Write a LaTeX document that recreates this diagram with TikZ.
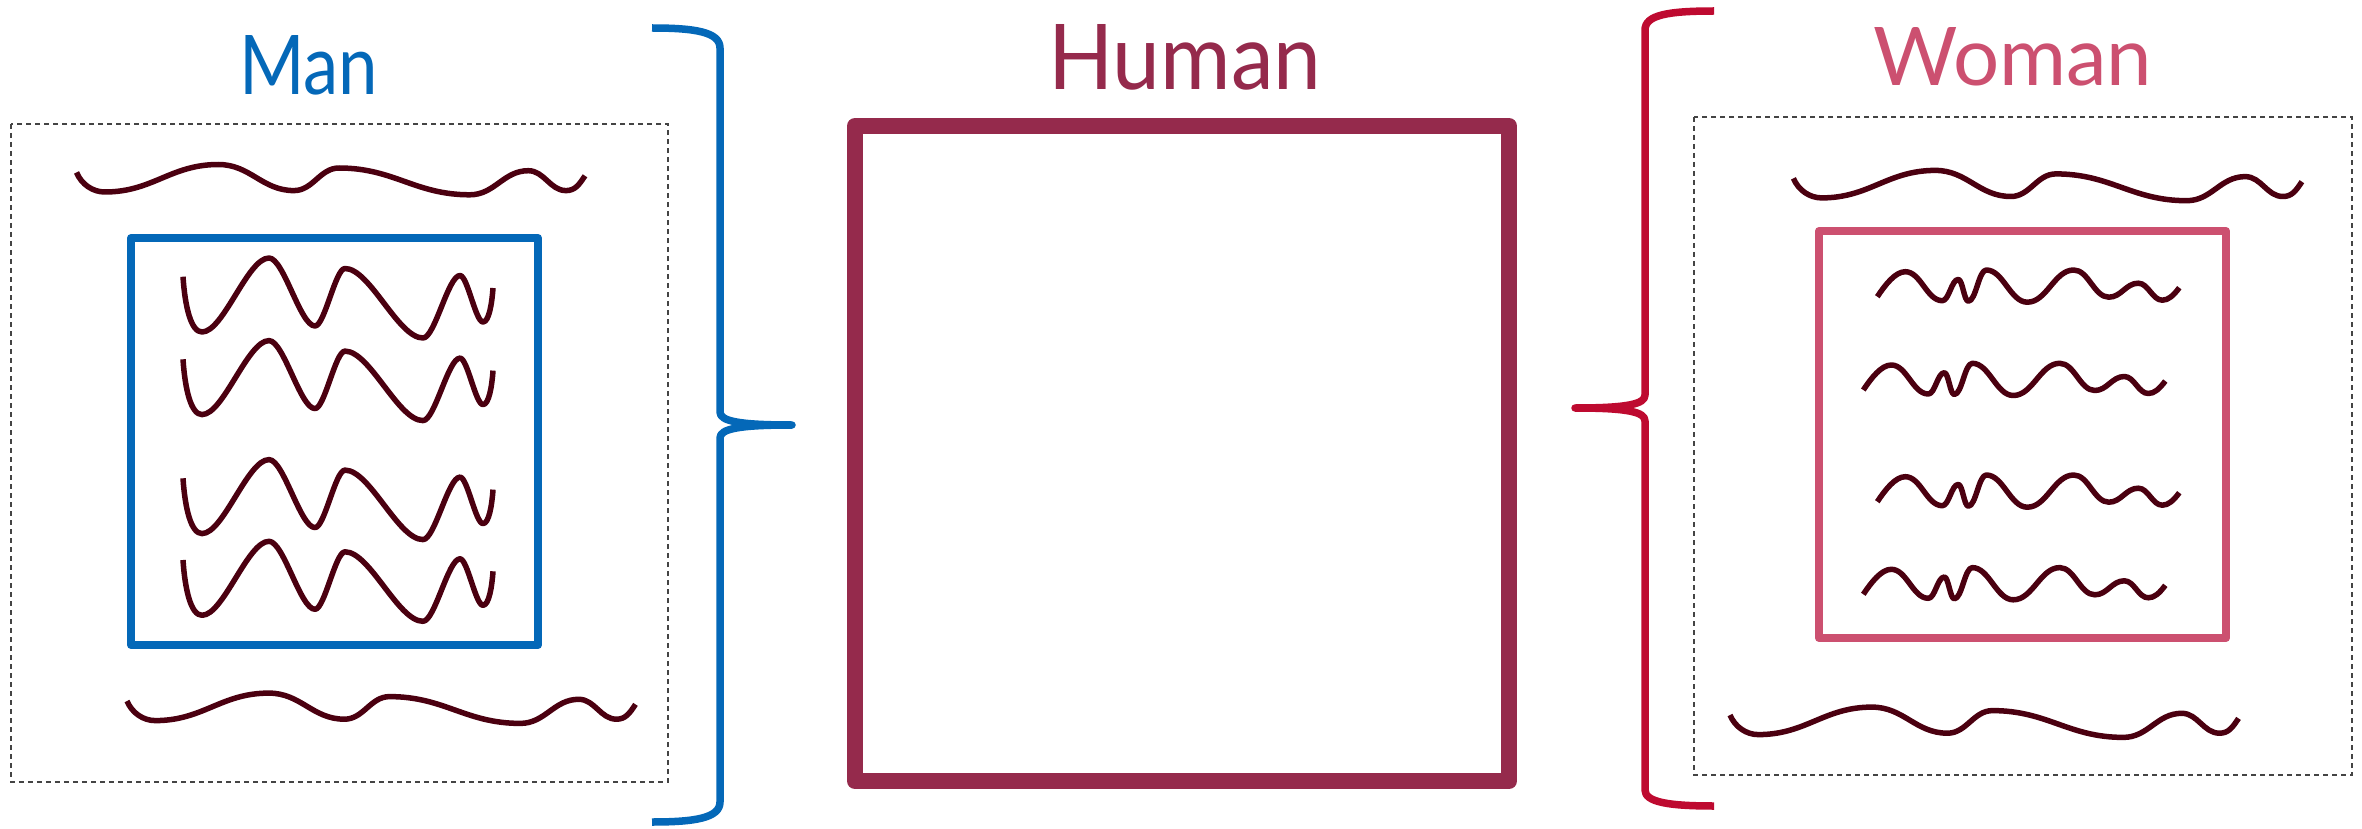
\documentclass[tikz,border=0pt]{standalone}
\usepackage{fontspec}
\setmainfont{Lato}
\usepackage{graphicx}
\definecolor{manblue}{RGB}{4,104,184}
\definecolor{humanred}{RGB}{149,42,76}
\definecolor{womanpink}{RGB}{204,80,112}
\definecolor{bracered}{RGB}{190,10,48}
\definecolor{wavecol}{RGB}{75,0,16}
\definecolor{dashgray}{RGB}{68,68,68}
\tikzset{
  dashbox/.style={draw=dashgray, line width=1.3pt, dash pattern=on 5pt off 4pt},
  wave/.style={draw=wavecol, line width=5.5pt, line cap=butt, line join=round},
  bracepath/.style={line width=7.5pt, line join=round, line cap=butt},
  frame/.style={line join=round},
  title/.style={inner sep=0pt, anchor=base west},
  widewave/.pic={\draw[wave] (0,0) .. controls +(5,12) and +(-12,0) .. (28.3,19.6)
     .. controls +(48,0) and +(-48,0) .. (141.9,-7.9)
     .. controls +(32,0) and +(-32,0) .. (217.5,18.2)
     .. controls +(19,0) and +(-19,0) .. (262.5,-4.4)
     .. controls +(55,0) and +(-55,0) .. (393.3,22.4)
     .. controls +(25,0) and +(-25,0) .. (451.8,-1.7)
     .. controls +(16,0) and +(-16,0) .. (489.5,18.2)
     .. controls +(9,0) and +(-6,9) .. (508.5,3.4);},
  tallwave/.pic={\draw[wave] (0,0) .. controls +(2,30) and +(-11,0) .. (19,55.3)
     .. controls +(21.4,0) and +(-21.4,0) .. (86,-18.7)
     .. controls +(14.7,0) and +(-14.7,0) .. (132,49.3)
     .. controls +(9.6,0) and +(-9.6,0) .. (162,-8.2)
     .. controls +(25,0) and +(-25,0) .. (240,61.3)
     .. controls +(11.8,0) and +(-11.8,0) .. (277,-1.2)
     .. controls +(7.4,0) and +(-7.4,0) .. (300,45.3)
     .. controls +(6,0) and +(-1,15) .. (310,11.3);},
  shortwave/.pic={\draw[wave] (0,0) .. controls +(8,-12) and +(-10,0) .. (28,-25)
     .. controls +(15.5,0) and +(-15.5,0) .. (65,4)
     .. controls +(6.7,0) and +(-6.7,0) .. (81,-17.3)
     .. controls +(4.2,0) and +(-4.2,0) .. (91,4.5)
     .. controls +(7.6,0) and +(-7.6,0) .. (109,-26.7)
     .. controls +(17,0) and +(-17,0) .. (150,5.5)
     .. controls +(19.5,0) and +(-19.5,0) .. (196.5,-26.7)
     .. controls +(14.7,0) and +(-14.7,0) .. (231.5,0.5)
     .. controls +(12.4,0) and +(-12.4,0) .. (261,-13.5)
     .. controls +(10,0) and +(-10,0) .. (285,3.5)
     .. controls +(6,0) and +(-6,8) .. (302,-9);},
}
\begin{document}
\begin{tikzpicture}[x=1pt,y=-1pt]
\useasboundingbox (0,0) rectangle (2362,829);

% ---------- Man ----------
\node[title, text=manblue] (man) at (239,95) {\resizebox{139pt}{59pt}{Man}};
\draw[dashbox] (11,124) rectangle (668,782);
\draw[manblue, line width=8pt, frame] (131,238) rectangle (538,645);
\pic at (76.5,172.4) {widewave};
\pic at (127,701) {widewave};
\pic at (183,276.7) {tallwave};
\pic at (183,359.3) {tallwave};
\pic at (183,478.3) {tallwave};
\pic at (183,560) {tallwave};

\draw[bracepath, manblue] (652,28) .. controls (695,28) and (720,32) .. (720,48)
  -- (720,412) .. controls (720,421) and (738,425) .. (792,425)
  .. controls (738,425) and (720,429) .. (720,438)
  -- (720,802) .. controls (720,818) and (695,822) .. (652,822);

% ---------- Human ----------
\node[title, text=humanred] (human) at (1048,90) {\resizebox{273pt}{65pt}{Human}};
\draw[humanred, line width=16pt, frame] (855,126) rectangle (1509,781);

% ---------- Woman ----------
\draw[bracepath, bracered] (1714,11) .. controls (1668,11) and (1645,15) .. (1645,30)
  -- (1645,395) .. controls (1645,404) and (1628,408) .. (1575,408)
  .. controls (1628,408) and (1645,412) .. (1645,421)
  -- (1645,790) .. controls (1645,802) and (1668,806) .. (1714,806);

\node[title, text=womanpink] (woman) at (1873,86) {\resizebox{279pt}{58pt}{Woman}};
\draw[dashbox] (1694,117) rectangle (2352,775);
\draw[womanpink, line width=8pt, frame] (1819,231) rectangle (2226,638);
\pic at (1793.4,178.3) {widewave};
\pic at (1730,715) {widewave};
\pic at (1877.3,296.7) {shortwave};
\pic at (1863.3,390) {shortwave};
\pic at (1877.3,501.7) {shortwave};
\pic at (1863.3,594.3) {shortwave};
\end{tikzpicture}
\end{document}
